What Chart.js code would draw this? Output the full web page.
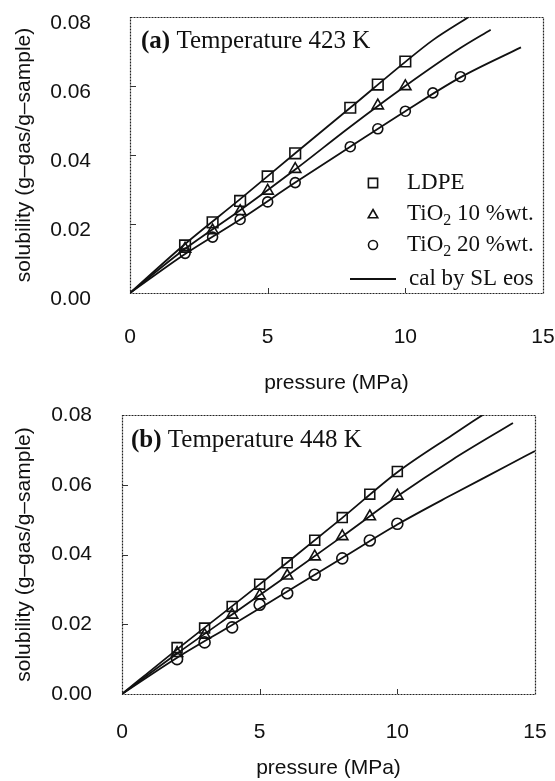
<!DOCTYPE html>
<html><head><meta charset="utf-8">
<script src="https://cdn.jsdelivr.net/npm/chart.js@4/dist/chart.umd.min.js"></script>
<style>
html,body{margin:0;padding:0;background:#fff;width:555px;height:781px;overflow:hidden}
.box{position:absolute;left:0;width:555px}
#wa{top:0;height:400px}
#wb{top:400px;height:381px}
</style></head><body>
<div class="box" id="wa"><canvas id="ca" width="555" height="400"></canvas></div>
<div class="box" id="wb"><canvas id="cb" width="555" height="381"></canvas></div>
<script>
// ---------- axis ticks ----------
const xTicks = [0, 5, 10, 15];
const yTicks = [0, 0.02, 0.04, 0.06, 0.08];

// ---------- panel (a) 423 K : measured ----------
const aLdpeP = [2, 3, 4, 5, 6, 8, 9, 10];
const aLdpeS = [0.0138, 0.0205, 0.0267, 0.0338, 0.0405, 0.0537, 0.0604, 0.0671];
const aTi10P = [2, 3, 4, 5, 6, 9, 10];
const aTi10S = [0.0128, 0.0181, 0.0237, 0.0296, 0.0359, 0.0543, 0.0599];
const aTi20P = [2, 3, 4, 5, 6, 8, 9, 10, 11, 12];
const aTi20S = [0.0115, 0.0162, 0.0213, 0.0264, 0.0320, 0.0424, 0.0476, 0.0527, 0.0580, 0.0627];
// panel (a) : calculated (SL eos)
const aCalLdpeP = [0, 2, 4, 6, 8, 10, 11, 12.3];
const aCalLdpeS = [0, 0.0142, 0.0272, 0.0405, 0.0537, 0.0670, 0.0733, 0.0800];
const aCalTi10P = [0, 2, 4, 6, 8, 10, 12, 13.1];
const aCalTi10S = [0, 0.0128, 0.0240, 0.0358, 0.0482, 0.0600, 0.0710, 0.0763];
const aCalTi20P = [0, 2, 4, 6, 8, 10, 12, 14.2];
const aCalTi20S = [0, 0.0113, 0.0213, 0.0320, 0.0424, 0.0527, 0.0625, 0.0712];

// ---------- panel (b) 448 K : measured ----------
const bP = [2, 3, 4, 5, 6, 7, 8, 9, 10];
const bLdpeS = [0.0133, 0.0189, 0.0251, 0.0315, 0.0376, 0.0441, 0.0506, 0.0573, 0.0638];
const bTi10S = [0.0117, 0.0169, 0.0227, 0.0282, 0.0339, 0.0394, 0.0452, 0.0509, 0.0568];
const bTi20S = [0.0100, 0.0148, 0.0191, 0.0256, 0.0289, 0.0342, 0.0389, 0.0440, 0.0488];
// panel (b) : calculated (SL eos)
const bCalLdpeP = [0, 2, 4, 6, 8, 10, 12, 13.1];
const bCalLdpeS = [0, 0.0128, 0.0252, 0.0377, 0.0505, 0.0636, 0.0743, 0.0800];
const bCalTi10P = [0, 2, 4, 6, 8, 10, 12, 14.2];
const bCalTi10S = [0, 0.0116, 0.0228, 0.0339, 0.0452, 0.0567, 0.0672, 0.0777];
const bCalTi20P = [0, 2, 4, 6, 8, 10, 12, 14, 15];
const bCalTi20S = [0, 0.0104, 0.0198, 0.0294, 0.0390, 0.0486, 0.0572, 0.0655, 0.0697];

// ---------- text ----------
const panelTags = ['(a)', '(b)'];
const panelTitles = [' Temperature 423 K', ' Temperature 448 K'];
const legendLabels = ['LDPE', 'TiO|2| 10 %wt.', 'TiO|2| 20 %wt.', 'cal by SL eos'];
const xTitle = 'pressure (MPa)';
const yTitle = 'solubility (g\u2013gas/g\u2013sample)';

function pts(xs, ys) { return xs.map((x, i) => ({ x: x, y: ys[i] })); }

const SANS = "'Liberation Sans', Arial, sans-serif";
const SERIF = "'Liberation Serif', 'Times New Roman', serif";

function marker(ctx, style, x, y, r) {
  ctx.beginPath();
  if (style === 'rect') {
    const s = r * Math.SQRT1_2;
    ctx.rect(x - s, y - s, 2 * s, 2 * s);
  } else if (style === 'triangle') {
    ctx.moveTo(x, y - r);
    ctx.lineTo(x + r * 0.866, y + r * 0.5);
    ctx.lineTo(x - r * 0.866, y + r * 0.5);
    ctx.closePath();
  } else {
    ctx.arc(x, y, r, 0, Math.PI * 2);
  }
  ctx.stroke();
}

function subText(ctx, str, x, y, size) {
  // segments separated by | ; odd segments are subscripts
  const parts = str.split('|');
  let cx = x;
  parts.forEach((p, i) => {
    if (i % 2 === 1) {
      ctx.font = Math.round(size * 0.68) + 'px ' + SERIF;
      ctx.fillText(p, cx, y + size * 0.3);
    } else {
      ctx.font = size + 'px ' + SERIF;
      ctx.fillText(p, cx, y);
    }
    cx += ctx.measureText(p).width;
  });
}

const decor = {
  id: 'decor',
  afterDatasetsDraw(chart, args, o) {
    const { ctx, chartArea: a, scales: { x, y } } = chart;
    ctx.save();
    // dotted frame
    ctx.strokeStyle = '#222';
    ctx.lineWidth = 1.2;
    ctx.setLineDash([2, 1]);
    ctx.strokeRect(a.left + 0.5, a.top + 0.5, a.right - a.left, a.bottom - a.top);
    ctx.setLineDash([]);
    // inward ticks
    ctx.lineWidth = 1;
    ctx.strokeStyle = '#333';
    yTicks.forEach(v => {
      if (v > y.min && v < y.max) {
        const py = Math.round(y.getPixelForValue(v)) + 0.5;
        ctx.beginPath(); ctx.moveTo(a.left, py); ctx.lineTo(a.left + 6, py); ctx.stroke();
      }
    });
    xTicks.forEach(v => {
      if (v > x.min && v < x.max) {
        const px = Math.round(x.getPixelForValue(v)) + 0.5;
        ctx.beginPath(); ctx.moveTo(px, a.bottom); ctx.lineTo(px, a.bottom - 5); ctx.stroke();
      }
    });
    // panel label
    ctx.fillStyle = '#111';
    ctx.textBaseline = 'alphabetic';
    ctx.textAlign = 'left';
    const lx = a.left + o.labelDx, ly = a.top + o.labelDy;
    ctx.font = 'bold 25px ' + SERIF;
    ctx.fillText(panelTags[o.panel], lx, ly);
    const w = ctx.measureText(panelTags[o.panel]).width;
    ctx.font = '25px ' + SERIF;
    ctx.fillText(panelTitles[o.panel], lx + w, ly);
    // legend
    if (o.legend) {
      const mx = a.left + 243, tx = a.left + 277;
      const rows = [166, 197, 228, 262].map(v => a.top + v);
      const styles = ['rect', 'triangle', 'circle'];
      const rads = [6.5, 5.5, 4.5];
      ctx.strokeStyle = '#111';
      ctx.lineWidth = 1.6;
      ctx.textBaseline = 'middle';
      styles.forEach((s, i) => {
        marker(ctx, s, mx, rows[i] + (s === 'triangle' ? 1 : 0), rads[i]);
        subText(ctx, legendLabels[i], tx, rows[i], 23);
      });
      ctx.lineWidth = 1.8;
      ctx.beginPath(); ctx.moveTo(a.left + 220, rows[3]); ctx.lineTo(a.left + 266, rows[3]); ctx.stroke();
      subText(ctx, legendLabels[3], a.left + 279, rows[3], 23);
    }
    ctx.restore();
  }
};

function markerSet(label, xs, ys, style, r) {
  return {
    label: label, data: pts(xs, ys), showLine: false,
    pointStyle: style, pointRadius: r, pointHoverRadius: r,
    pointBorderColor: '#111', pointBackgroundColor: 'rgba(0,0,0,0)', pointBorderWidth: 1.6
  };
}
function lineSet(label, xs, ys) {
  return {
    label: label, data: pts(xs, ys), showLine: true, pointRadius: 0, pointHoverRadius: 0,
    borderColor: '#111', borderWidth: 1.8, cubicInterpolationMode: 'monotone', fill: false
  };
}

function makeChart(id, datasets, cfg) {
  return new Chart(document.getElementById(id), {
    type: 'scatter',
    data: { datasets: datasets },
    options: {
      responsive: false, animation: false, devicePixelRatio: 1,
      layout: { padding: { top: cfg.top, right: cfg.right, left: 0, bottom: 0 } },
      plugins: { legend: { display: false }, tooltip: { enabled: false }, decor: cfg.decor },
      scales: {
        x: {
          type: 'linear', min: 0, max: 15,
          afterBuildTicks: s => { s.ticks = xTicks.map(v => ({ value: v })); },
          afterFit: s => { s.height = cfg.xh; },
          grid: { display: false, drawTicks: true, tickLength: cfg.xpad }, border: { display: false },
          ticks: { color: '#111', font: { family: SANS, size: 21 }, padding: 0, maxRotation: 0, callback: v => String(v) },
          title: { display: true, text: xTitle, color: '#111', font: { family: SANS, size: 21, lineHeight: 1 }, padding: { top: 0, bottom: cfg.xtpad } }
        },
        y: {
          type: 'linear', min: 0, max: 0.08,
          afterBuildTicks: s => { s.ticks = yTicks.map(v => ({ value: v })); },
          afterFit: s => { s.width = cfg.yw; },
          grid: { display: false, drawTicks: true, tickLength: cfg.ypad }, border: { display: false },
          ticks: { color: '#111', font: { family: SANS, size: 21 }, padding: 0, labelOffset: cfg.yoff, callback: v => v.toFixed(2) },
          title: { display: true, text: yTitle, color: '#111', font: { family: SANS, size: 21, lineHeight: 1 }, padding: { top: 14, bottom: 0 } }
        }
      }
    },
    plugins: [decor]
  });
}

makeChart('ca', [
  markerSet('LDPE', aLdpeP, aLdpeS, 'rect', 7.5),
  markerSet('TiO2 10 %wt.', aTi10P, aTi10S, 'triangle', 6.5),
  markerSet('TiO2 20 %wt.', aTi20P, aTi20S, 'circle', 5),
  lineSet('cal LDPE', aCalLdpeP, aCalLdpeS),
  lineSet('cal TiO2 10', aCalTi10P, aCalTi10S),
  lineSet('cal TiO2 20', aCalTi20P, aCalTi20S)
], { top: 17, right: 12, xh: 107, yw: 130, xpad: 32, xtpad: 6, ypad: 39, yoff: 6,
     decor: { panel: 0, legend: true, labelDx: 11, labelDy: 31 } });

makeChart('cb', [
  markerSet('LDPE', bP, bLdpeS, 'rect', 7),
  markerSet('TiO2 10 %wt.', bP, bTi10S, 'triangle', 6.5),
  markerSet('TiO2 20 %wt.', bP, bTi20S, 'circle', 5.5),
  lineSet('cal LDPE', bCalLdpeP, bCalLdpeS),
  lineSet('cal TiO2 10', bCalTi10P, bCalTi10S),
  lineSet('cal TiO2 20', bCalTi20P, bCalTi20S)
], { top: 15, right: 20, xh: 87, yw: 122, xpad: 26, xtpad: 2, ypad: 30, yoff: 0,
     decor: { panel: 1, legend: false, labelDx: 9, labelDy: 32 } });
</script>
</body></html>
